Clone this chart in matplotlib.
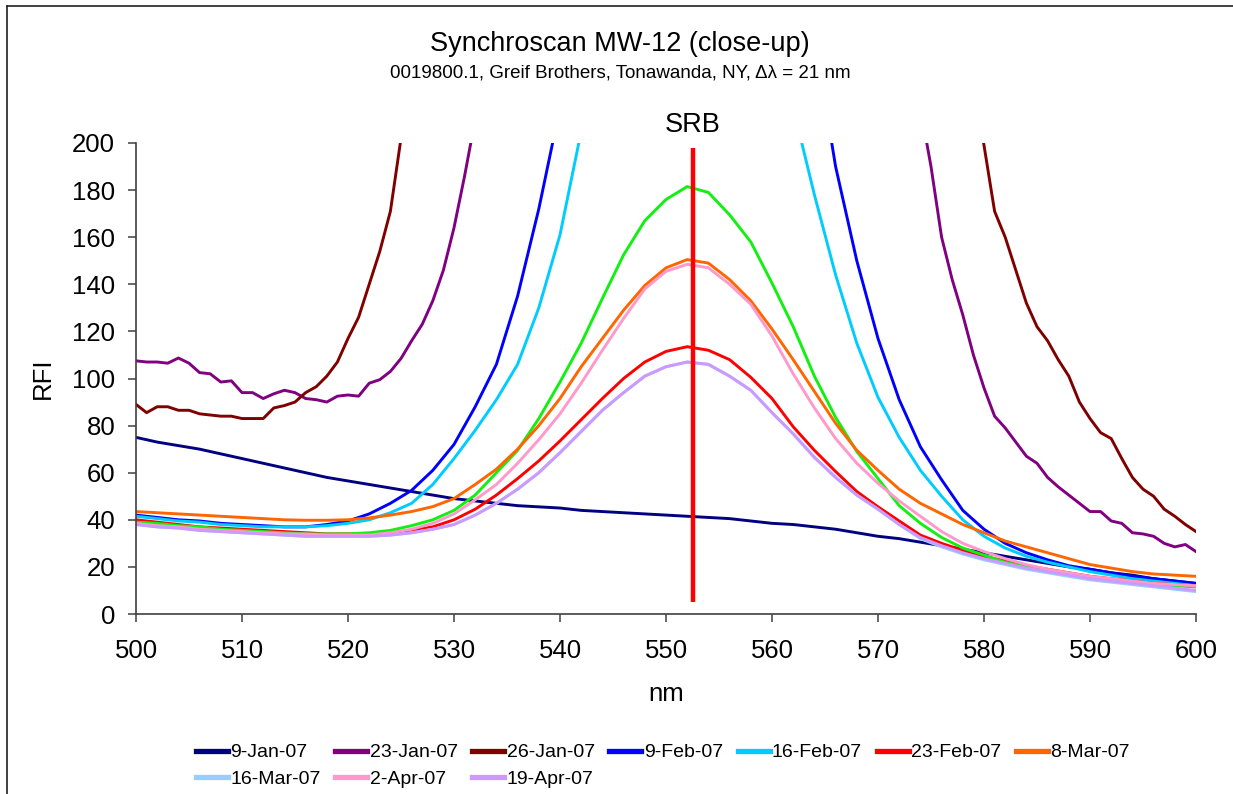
import numpy as np
import matplotlib
matplotlib.use("Agg")
import matplotlib.pyplot as plt
from matplotlib.lines import Line2D

plt.rcParams['font.family'] = ['Liberation Sans', 'DejaVu Sans']

# wavelength grids (nm)
nm = np.arange(500, 601, 2)
nm_fine = np.arange(500, 601, 1)

# series values (RFI); values above 200 are off-scale estimates
jan09 = [75, 73, 71.5, 70, 68, 66, 64, 62, 60, 58, 56.5, 55, 53.5, 52, 50.5, 49, 48, 47,
         46, 45.5, 45, 44, 43.5, 43, 42.5, 42, 41.5, 41, 40.5, 39.5, 38.5, 38, 37, 36,
         34.5, 33, 32, 30.5, 29, 27.5, 26, 24.5, 23, 21.5, 20, 19, 17.5, 16.5, 15, 14, 13]

jan23 = [107.5, 107, 107, 106.5, 108.7, 106.5, 102.5, 102, 98.5, 99, 94, 94, 91.5, 93.5,
         95, 94, 91.5, 91, 90, 92.5, 93, 92.5, 98, 99.5, 103, 108.5, 116, 123, 133, 146,
         164, 186, 210, 240, 270, 300, 330, 360, 390, 420, 450, 475, 500, 520, 540, 555,
         570, 580, 588, 594, 598, 600, 600, 598, 594, 588, 580, 570, 558, 544, 528, 510,
         490, 468, 445, 420, 393, 365, 337, 310, 285, 262, 240, 228, 215, 190, 160, 142,
         127, 110, 96, 84, 79, 73, 67, 64, 58, 54, 50.5, 47, 43.5, 43.5, 39.5, 38.5, 34.5,
         34, 33, 30, 28.5, 29.5, 26.5]

jan26 = [89, 85.5, 88, 88, 86.5, 86.5, 85, 84.5, 84, 84, 83, 83, 83, 87.5, 88.5, 90, 94,
         96.5, 101, 107, 117, 126, 140, 154, 171, 202, 232, 265, 300, 340, 380, 425, 470,
         515, 560, 605, 650, 690, 730, 765, 800, 830, 855, 878, 895, 910, 920, 928, 933,
         936, 937, 936, 933, 928, 920, 910, 897, 880, 860, 837, 810, 780, 745, 708, 668,
         625, 580, 535, 490, 446, 404, 370, 340, 315, 295, 280, 265, 250, 235, 225, 199,
         171, 160, 146, 132, 122, 116, 108, 101, 90, 83, 77, 74.5, 66, 58, 53, 50, 44.5,
         41.5, 38, 35]

feb09 = [42, 41, 40, 39.5, 38.5, 38, 37.5, 37, 37, 38, 39.5, 42.5, 47, 52.5, 61, 72, 88,
         106, 135, 172, 215, 260, 310, 360, 400, 420, 430, 420, 390, 350, 310, 285, 245,
         190, 150, 117, 91, 71, 57, 44, 36, 30, 26, 23, 20.5, 19, 17.5, 16, 15, 14, 13]

feb16 = [41.5, 40.5, 39.5, 39, 38, 37.5, 37, 37, 37, 37.5, 38.5, 40, 43, 47, 55, 66, 78,
         91, 106, 130, 161, 205, 250, 300, 340, 360, 370, 360, 330, 290, 250, 215, 178,
         144, 115, 92, 75, 61, 50, 40, 33, 28, 24.5, 22, 20, 18, 16.5, 15, 14, 13, 12]

feb23 = [40, 39, 38, 37, 36.5, 36, 35.5, 35, 34.5, 34, 34, 34, 34.5, 35.5, 37, 40, 44.5,
         50.5, 57.5, 65, 73.5, 82.5, 91.5, 100, 107, 111.5, 113.5, 112, 108, 100.5, 91.5,
         79.5, 69.5, 60.5, 52, 45.5, 39.5, 33.5, 30, 27, 24.5, 22.5, 20.5, 19, 17.5, 16,
         15, 14, 13, 12.5, 12]

# green trace has no entry in the original legend
unlabeled = [39, 38.5, 37.5, 37, 36, 35.5, 35, 34.5, 34, 34, 34, 34.5, 35.5, 37.5, 40, 44,
             50.5, 60, 69.5, 83, 98.5, 115, 134, 152.5, 167, 176, 181.5, 179, 169.5, 158,
             140.5, 122, 101, 83.5, 69, 57.5, 46, 38.5, 32.5, 28, 25, 22, 20, 18.5, 17,
             15.5, 14.5, 13.5, 12.5, 12, 11.5]

mar08 = [43.5, 43, 42.5, 42, 41.5, 41, 40.5, 40, 39.8, 39.8, 40, 40.8, 42, 43.5, 45.6, 49,
         55, 61.5, 70, 80, 91.5, 105, 117, 129, 139.5, 147, 150.5, 149, 142, 133, 121, 108,
         94.5, 81, 69.5, 61, 53, 47, 42.5, 38, 34.5, 31, 28.5, 26, 23.5, 21, 19.5, 18, 17,
         16.5, 16]

mar16 = [38, 37, 36.5, 35.5, 35, 34.5, 34, 33.5, 33, 33, 33, 33, 33.5, 34.5, 36, 38, 42,
         47, 53, 60, 68.5, 77.5, 86.5, 94, 101, 105, 107, 106, 101, 95, 85.5, 76.5, 66.5,
         58, 50.5, 44.5, 38, 32, 28.5, 25.5, 23, 21, 19, 17.5, 16, 14.5, 13.5, 12.5, 11.5,
         10.5, 9.5]

apr02 = [38.5, 37.5, 37, 36, 35.5, 35, 34.5, 34, 34, 33.5, 33.5, 33.5, 34.5, 36, 38.5,
         42.5, 48.5, 55, 64, 74, 85, 98, 112, 125.5, 138, 145.5, 148.5, 147, 140, 131.5,
         118, 102, 87.5, 74.5, 64, 55.5, 48, 41.5, 35, 30, 26.5, 23.5, 21, 19, 17.5, 16,
         15, 14, 13, 12.5, 12]

apr19 = [38, 37, 36.5, 35.5, 35, 34.5, 34, 33.5, 33, 33, 33, 33, 33.5, 34.5, 36, 38, 42,
         47, 53, 60, 68.5, 77.5, 86.5, 94, 101, 105, 107, 106, 101, 95, 85.5, 76.5, 66.5,
         58, 50.5, 44.5, 38, 32.5, 29, 26, 23.5, 21.5, 19.5, 18, 16.5, 15, 14, 13, 12, 11, 10]

srb_nm = 552.5

series = [
    ("9-Jan-07", nm, jan09, "#000080"),
    ("23-Jan-07", nm_fine, jan23, "#800080"),
    ("26-Jan-07", nm_fine, jan26, "#800000"),
    ("9-Feb-07", nm, feb09, "#0000FF"),
    ("16-Feb-07", nm, feb16, "#00CCFF"),
    ("23-Feb-07", nm, feb23, "#FF0000"),
    (None, nm, unlabeled, "#11F011"),
    ("8-Mar-07", nm, mar08, "#FF6600"),
    ("16-Mar-07", nm, mar16, "#99CCFF"),
    ("2-Apr-07", nm, apr02, "#FF99CC"),
    ("19-Apr-07", nm, apr19, "#CC99FF"),
]

fig = plt.figure(figsize=(12.33, 7.94), dpi=100)
ax = fig.add_axes([136/1233, 1 - 614/794, 1060/1233, 471/794])

handles = {}
for label, x, y, color in series:
    line, = ax.plot(x, y, color=color, lw=2.1, solid_joinstyle='round')
    if label:
        handles[label] = line

# SRB marker
ax.plot([srb_nm, srb_nm], [5, 198], color="#FF0000", lw=3.2, solid_capstyle='butt')
ax.text(srb_nm, 207.5, "SRB", ha='center', va='center', fontsize=19.5, clip_on=False)

ax.set_xlim(500, 600)
ax.set_ylim(0, 200)
ax.set_xticks(np.arange(500, 601, 10))
ax.set_yticks(np.arange(0, 201, 20))
for s in ['top', 'right']:
    ax.spines[s].set_visible(False)
for s in ['left', 'bottom']:
    ax.spines[s].set_color('#404040')
    ax.spines[s].set_linewidth(1.2)
ax.tick_params(axis='both', direction='out', length=6, width=1.1, color='#404040',
               labelsize=18.5)
ax.tick_params(axis='x', pad=12)
ax.tick_params(axis='y', pad=9)
ax.set_xlabel("nm", fontsize=18.5, labelpad=14)
ax.set_ylabel("RFI", fontsize=18.5, labelpad=12)

fig.text(0.503, 1 - 44/794, "Synchroscan MW-12 (close-up)", ha='center', va='center',
         fontsize=19.5)
fig.text(0.503, 1 - 73/794, "0019800.1, Greif Brothers, Tonawanda, NY, \u0394\u03bb = 21 nm",
         ha='center', va='center', fontsize=13.5)

# legend in Excel-like row order (7 columns, 2 rows)
order = ["9-Jan-07", "16-Mar-07", "23-Jan-07", "2-Apr-07", "26-Jan-07", "19-Apr-07",
         "9-Feb-07", "16-Feb-07", "23-Feb-07", "8-Mar-07"]
leg = fig.legend([handles[k] for k in order], order, ncol=7, loc='upper left',
                 bbox_to_anchor=(188/1233, 1 - 736/794), frameon=False, fontsize=14,
                 handlelength=1.65, handletextpad=0.12, columnspacing=0.75,
                 labelspacing=0.45, borderaxespad=0)
for h in leg.get_lines():
    h.set_linewidth(3.8)

# outer chart frame (top and left edges visible in the crop)
fig.add_artist(Line2D([7/1233, 1.0], [1 - 6/794, 1 - 6/794], transform=fig.transFigure,
                      color='#202020', lw=1.2))
fig.add_artist(Line2D([7/1233, 7/1233], [0, 1 - 6/794], transform=fig.transFigure,
                      color='#202020', lw=1.2))

fig.savefig("out.png", dpi=100)
